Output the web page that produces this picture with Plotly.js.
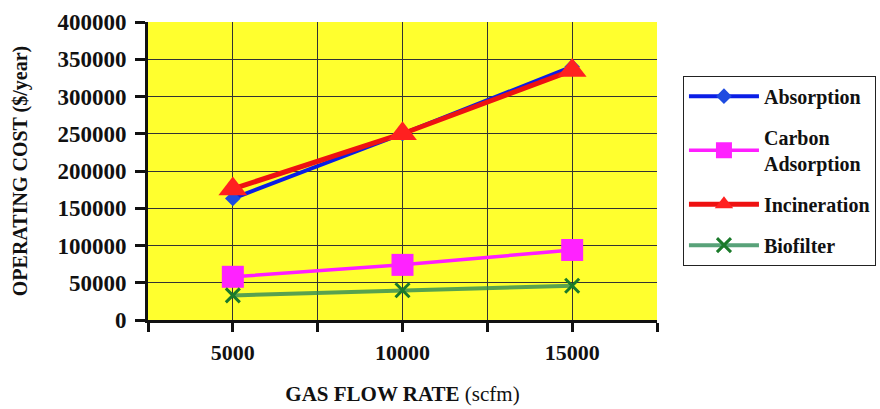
<!DOCTYPE html>
<html>
<head>
<meta charset="utf-8">
<script src="https://cdn.plot.ly/plotly-3.0.1.min.js"></script>
<style>html,body{margin:0;padding:0;background:#fff;}#chart{width:880px;height:409px;}</style>
</head>
<body>
<div id="chart"></div>
<script>
const flowRates = [5000, 10000, 15000];
const absorption = [163000, 250000, 340000];
const carbonAdsorption = [58000, 74000, 94000];
const incineration = [176000, 250000, 335000];
const biofilter = [33000, 40000, 46000];
const xTickVals = [2500, 5000, 7500, 10000, 12500, 15000, 17500];
const xTickText = ['', '5000', '', '10000', '', '15000', ''];
const yTickVals = [0, 50000, 100000, 150000, 200000, 250000, 300000, 350000, 400000];
const yTickText = ['0', '50000', '100000', '150000', '200000', '250000', '300000', '350000', '400000'];

const serif = 'Liberation Serif';

const traces = [
  {x: flowRates, y: absorption, name: 'Absorption', mode: 'lines+markers', legendgroup: 'a',
   line: {color: '#0a1ee6', width: 4}, marker: {symbol: 'diamond', size: 12, color: '#1e4be0'}},
  {x: flowRates, y: carbonAdsorption, name: 'Carbon<br>Adsorption', mode: 'lines+markers', legendgroup: 'b',
   line: {color: '#ff1eff', width: 3.5}, marker: {symbol: 'square', size: 22, color: '#ff22ff'}},
  {x: flowRates, y: incineration, name: 'Incineration', mode: 'lines+markers', legendgroup: 'c',
   line: {color: '#ee1111', width: 5}, marker: {symbol: 'triangle-up', size: 25, color: '#ff2020'}},
  {x: flowRates, y: biofilter, name: 'Biofilter', mode: 'lines+markers', legendgroup: 'd',
   line: {color: 'rgba(46,139,87,0.8)', width: 4}, marker: {symbol: 'x-thin', size: 14, color: '#1a7a2a', line: {width: 3, color: '#1a7a2a'}}}
];

const layout = {
  width: 880, height: 409,
  margin: {l: 148, r: 223, t: 22, b: 89, autoexpand: false},
  paper_bgcolor: '#ffffff',
  plot_bgcolor: '#ffff2e',
  font: {family: serif, color: '#111', size: 20},
  showlegend: true,
  legend: {
    x: 1.051, xanchor: 'left', y: 0.82, yanchor: 'top',
    bgcolor: '#ffffff', bordercolor: '#222', borderwidth: 1,
    font: {family: serif, size: 20, color: '#111', weight: 'bold'},
    traceorder: 'grouped', tracegroupgap: 12, itemwidth: 70
  },
  xaxis: {
    range: [2500, 17500], tickmode: 'array', tickvals: xTickVals, ticktext: xTickText,
    showgrid: true, gridcolor: '#333', gridwidth: 1,
    showline: true, linecolor: '#111', linewidth: 3,
    ticks: 'outside', ticklen: 9, tickwidth: 3, tickcolor: '#111',
    ticklabelstandoff: 2,
    tickfont: {family: serif, size: 22, color: '#111', weight: 'bold'},
    zeroline: false, fixedrange: true,
    title: {text: '<b>GAS FLOW RATE</b> (scfm)', font: {family: serif, size: 21, color: '#111'}, standoff: 22}
  },
  yaxis: {
    range: [0, 400000], tickmode: 'array', tickvals: yTickVals, ticktext: yTickText,
    showgrid: true, gridcolor: '#333', gridwidth: 1,
    showline: true, linecolor: '#111', linewidth: 3,
    ticks: 'outside', ticklen: 10, tickwidth: 3, tickcolor: '#111',
    ticklabelstandoff: 4,
    tickfont: {family: serif, size: 23, color: '#111', weight: 'bold'},
    zeroline: false, fixedrange: true,
    title: {text: '<b>OPERATING COST ($/year)</b>', font: {family: serif, size: 20, color: '#111'}, standoff: 25}
  }
};

Plotly.newPlot('chart', traces, layout, {displayModeBar: false, staticPlot: true});
</script>
</body>
</html>
